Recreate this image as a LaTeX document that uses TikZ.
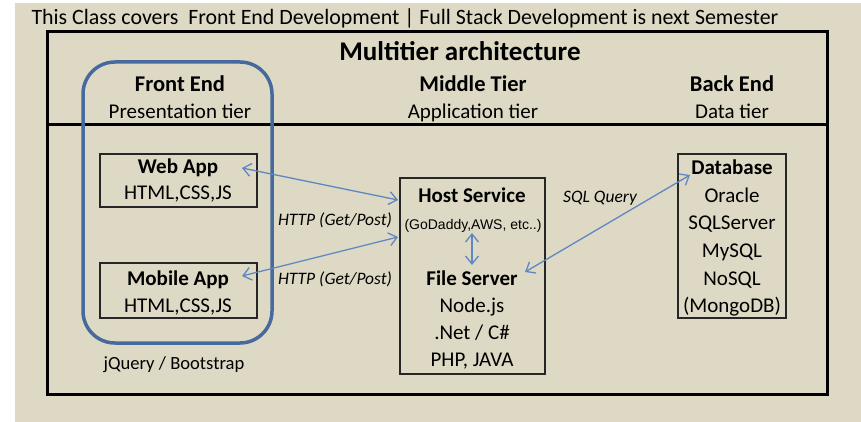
\documentclass[tikz,border=0pt]{standalone}
\usepackage{fontspec}
\setmainfont{Carlito}
\newfontfamily\arialf{Liberation Sans}
\usetikzlibrary{arrows.meta}
\definecolor{beige}{RGB}{221,217,196}
\definecolor{frameblue}{RGB}{70,106,158}
\definecolor{arrowblue}{RGB}{95,135,195}
\begin{document}
\begin{tikzpicture}[x=1pt,y=-1pt,
  txt/.style={inner sep=0pt, anchor=base, font=\fontsize{21}{21}\selectfont},
  btxt/.style={inner sep=0pt, anchor=base, font=\fontsize{21}{21}\selectfont\bfseries},
  htxt/.style={inner sep=0pt, anchor=base, font=\fontsize{22.5}{22.5}\selectfont\bfseries},
  itxt/.style={inner sep=0pt, anchor=base, font=\fontsize{17.5}{17.5}\selectfont\itshape},
  boxst/.style={draw=black!85, line width=1.3pt, inner sep=0pt},
  conn/.style={draw=arrowblue, line width=1.3pt, {Straight Barb[length=8pt,width=13pt]}-{Straight Barb[length=8pt,width=13pt]}}
]
\useasboundingbox (0,0) rectangle (861,422);
\fill[beige] (15,3) rectangle (861,422);
% title
\node[txt, font=\fontsize{21.9}{21.9}\selectfont] (title) at (405,25) {This Class covers\ \ Front End Development | Full Stack Development is next Semester};
% main frame
\draw[line width=3pt] (47,32) rectangle (827,394);
\draw[line width=3pt] (47,125) -- (827,125);
\node[txt, font=\fontsize{27}{27}\selectfont\bfseries] (mta) at (460,61) {Multitier architecture};
% tier headings
\node[htxt] (fe) at (180,92) {Front End};
\node[txt] (pt) at (180,119) {Presentation tier};
\node[htxt] (mt) at (473,92) {Middle Tier};
\node[txt] (at) at (473,119) {Application tier};
\node[htxt] (be) at (732,92) {Back End};
\node[txt] (dt) at (732,119) {Data tier};
% front end rounded frame
\draw[frameblue, line width=3.5pt, rounded corners=32pt] (83,62) rectangle (272,343);
% web app
\node[boxst, minimum width=157, minimum height=53] (webbox) at (178.5,180.5) {};
\node[btxt] (web) at (178,174) {Web App};
\node[txt] (webt) at (178,200) {HTML,CSS,JS};
% mobile app
\node[boxst, minimum width=157, minimum height=55] (mobbox) at (178.5,290.5) {};
\node[btxt] (mob) at (178,285) {Mobile App};
\node[txt] (mobt) at (178,312) {HTML,CSS,JS};
\node[txt, font=\fontsize{18.6}{18.6}\selectfont] (jq) at (174,369) {jQuery / Bootstrap};
% host service
\node[boxst, minimum width=145, minimum height=196] (hostbox) at (472.5,276) {};
\node[btxt] (host) at (472,202) {Host Service};
\node[txt, font=\fontsize{14}{14}\arialf] (gd) at (473,229) {(GoDaddy,AWS, etc..)};
\node[btxt] (fs) at (472,285) {File Server};
\node[txt] (node) at (472,312) {Node.js};
\node[txt] (net) at (472,339) {.Net / C\#};
\node[txt] (php) at (472,366) {PHP, JAVA};
% database
\node[boxst, minimum width=108, minimum height=164] (dbbox) at (732,236) {};
\node[btxt] (db) at (732,175) {Database};
\node[txt] (ora) at (732,202) {Oracle};
\node[txt] (sqls) at (732,229) {SQLServer};
\node[txt] (mys) at (732,257) {MySQL};
\node[txt] (nos) at (732,285) {NoSQL};
\node[txt] (mdb) at (732,312) {(MongoDB)};
% labels
\node[itxt] (http1) at (335,225) {HTTP (Get/Post)};
\node[itxt] (http2) at (335,284) {HTTP (Get/Post)};
\node[itxt] (sql) at (600,202) {SQL Query};
% connector end points
\coordinate (wA) at (242,168);
\coordinate (hA) at (398,200);
\coordinate (mA) at (242,276);
\coordinate (hB) at (398,237);
\coordinate (fA) at (525,272);
\coordinate (dA) at (690,175);
\coordinate (gA) at (472,233);
\coordinate (fB) at (472,265);
\draw[conn] (wA) -- (hA);
\draw[conn] (mA) -- (hB);
\draw[conn] (fA) -- (dA);
\draw[conn] (gA) -- (fB);
\end{tikzpicture}
\end{document}
